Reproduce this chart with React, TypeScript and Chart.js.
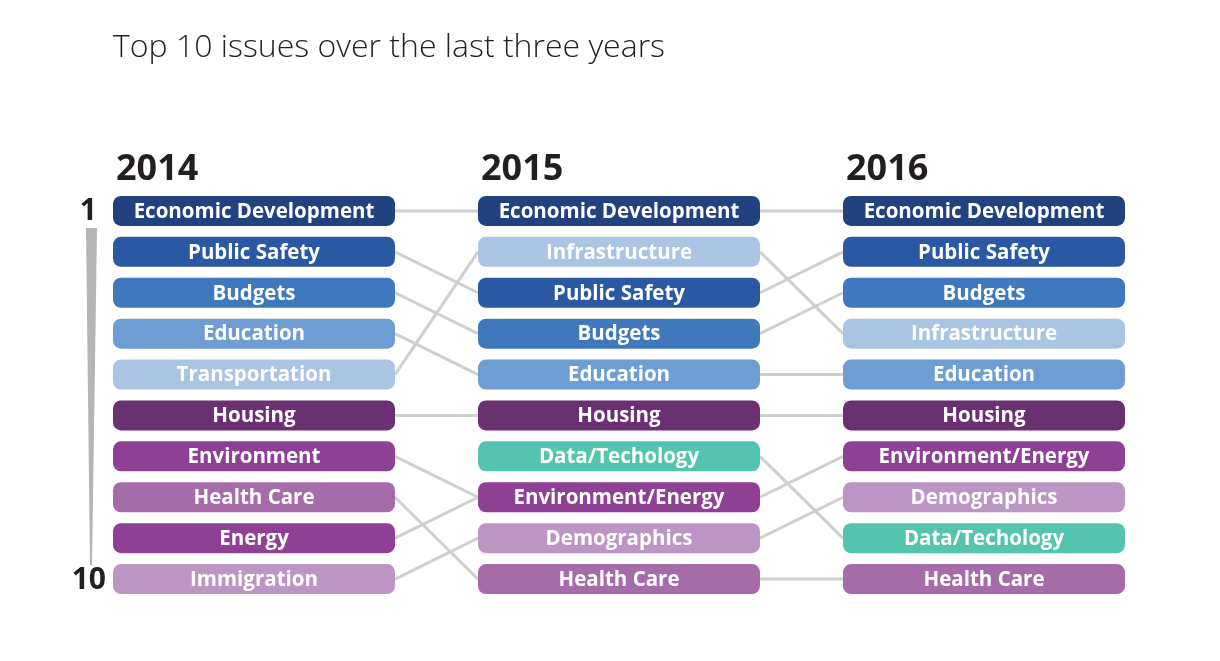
import React, { useEffect, useRef } from "react";
import { Chart, registerables } from "chart.js";

Chart.register(...registerables);

const title = "Top 10 issues over the last three years";
const years = ["2014", "2015", "2016"];
const rankLabels = ["1", "10"];

const issues2014 = [
  "Economic Development",
  "Public Safety",
  "Budgets",
  "Education",
  "Transportation",
  "Housing",
  "Environment",
  "Health Care",
  "Energy",
  "Immigration",
];
const issues2015 = [
  "Economic Development",
  "Infrastructure",
  "Public Safety",
  "Budgets",
  "Education",
  "Housing",
  "Data/Techology",
  "Environment/Energy",
  "Demographics",
  "Health Care",
];
const issues2016 = [
  "Economic Development",
  "Public Safety",
  "Budgets",
  "Infrastructure",
  "Education",
  "Housing",
  "Environment/Energy",
  "Demographics",
  "Data/Techology",
  "Health Care",
];
// 2015 rank reached by each 2014 rank (1..10)
const links2014to2015 = [1, 3, 4, 5, 2, 6, 8, 10, 8, 9];
// 2016 rank reached by each 2015 rank (1..10)
const links2015to2016 = [1, 4, 2, 3, 5, 6, 9, 7, 8, 10];

const issueColors: Record<string, string> = {
  "Economic Development": "#22427f",
  "Public Safety": "#2a58a3",
  Budgets: "#3f78bd",
  Education: "#6d9dd2",
  Transportation: "#aac4e4",
  Infrastructure: "#aac4e4",
  Housing: "#6b3072",
  Environment: "#8e4095",
  "Environment/Energy": "#8e4095",
  Energy: "#8e4095",
  "Health Care": "#a66caa",
  Immigration: "#bd95c4",
  Demographics: "#bd95c4",
  "Data/Techology": "#55c4ae",
};

const columns = [issues2014, issues2015, issues2016];

export default function App() {
  const ref = useRef<HTMLCanvasElement | null>(null);

  useEffect(() => {
    document.body.style.margin = "0";
    const canvas = ref.current;
    if (!canvas) return;

    const BOX_HALF_W = 141;
    const BOX_H = 30;
    const RADIUS = 8;
    const UNIT_PX = 365; // px per column step (from layout padding below)
    const EDGE = BOX_HALF_W / UNIT_PX;

    const linkStyle = {
      borderColor: "#cfcfcf",
      borderWidth: 3,
      pointRadius: 0,
      showLine: true,
    };
    const datasets: any[] = [];
    links2014to2015.forEach((to, i) => {
      datasets.push({
        ...linkStyle,
        data: [
          { x: 0 + EDGE, y: i + 1 },
          { x: 1 - EDGE, y: to },
        ],
      });
    });
    links2015to2016.forEach((to, i) => {
      datasets.push({
        ...linkStyle,
        data: [
          { x: 1 + EDGE, y: i + 1 },
          { x: 2 - EDGE, y: to },
        ],
      });
    });

    const boxPlugin = {
      id: "boxes",
      afterDatasetsDraw(chart: any) {
        const ctx = chart.ctx;
        const xs = chart.scales.x;
        const ys = chart.scales.y;
        ctx.save();
        columns.forEach((col, ci) => {
          const cx = xs.getPixelForValue(ci);
          col.forEach((name, ri) => {
            const cy = ys.getPixelForValue(ri + 1);
            ctx.beginPath();
            ctx.roundRect(cx - BOX_HALF_W, cy - BOX_H / 2, BOX_HALF_W * 2, BOX_H, RADIUS);
            ctx.fillStyle = issueColors[name] || "#999";
            ctx.fill();
            ctx.fillStyle = "#ffffff";
            ctx.font = "bold 20.5px 'Open Sans', sans-serif";
            ctx.textAlign = "center";
            ctx.textBaseline = "middle";
            ctx.fillText(name, cx, cy + 1);
          });
          // year header
          ctx.fillStyle = "#231f20";
          ctx.font = "bold 36px 'Open Sans', sans-serif";
          ctx.textAlign = "left";
          ctx.textBaseline = "alphabetic";
          ctx.fillText(years[ci], cx - BOX_HALF_W + 3, ys.getPixelForValue(1) - 31);
        });

        // rank axis
        const y1 = ys.getPixelForValue(1);
        const y10 = ys.getPixelForValue(10);
        ctx.fillStyle = "#231f20";
        ctx.font = "bold 30px 'Open Sans', sans-serif";
        ctx.textAlign = "right";
        ctx.textBaseline = "middle";
        ctx.fillText(rankLabels[0], 97, y1 + 1);
        ctx.fillText(rankLabels[1], 106, y10 + 1);

        // tapering wedge
        ctx.beginPath();
        ctx.moveTo(86, y1 + 17);
        ctx.lineTo(97, y1 + 17);
        ctx.lineTo(92, y10 - 14);
        ctx.lineTo(90, y10 - 14);
        ctx.closePath();
        ctx.fillStyle = "#b5b5b5";
        ctx.fill();

        // title
        ctx.fillStyle = "#231f20";
        ctx.font = "300 32px 'Open Sans', sans-serif";
        ctx.textAlign = "left";
        ctx.textBaseline = "alphabetic";
        ctx.fillText(title, 113, 57);
        ctx.restore();
      },
    };

    const chart = new Chart(canvas, {
      type: "scatter",
      data: { datasets },
      options: {
        animation: false,
        responsive: false,
        maintainAspectRatio: false,
        layout: { padding: { left: 71.5, right: 53.5, top: 170, bottom: 41 } },
        plugins: { legend: { display: false }, tooltip: { enabled: false }, title: { display: false } },
        scales: {
          x: { type: "linear", min: -0.5, max: 2.5, display: false },
          y: { type: "linear", min: 0, max: 11, reverse: true, display: false },
        },
      },
      plugins: [boxPlugin],
    });

    return () => chart.destroy();
  }, []);

  return <canvas ref={ref} width={1220} height={661} style={{ display: "block" }} />;
}
